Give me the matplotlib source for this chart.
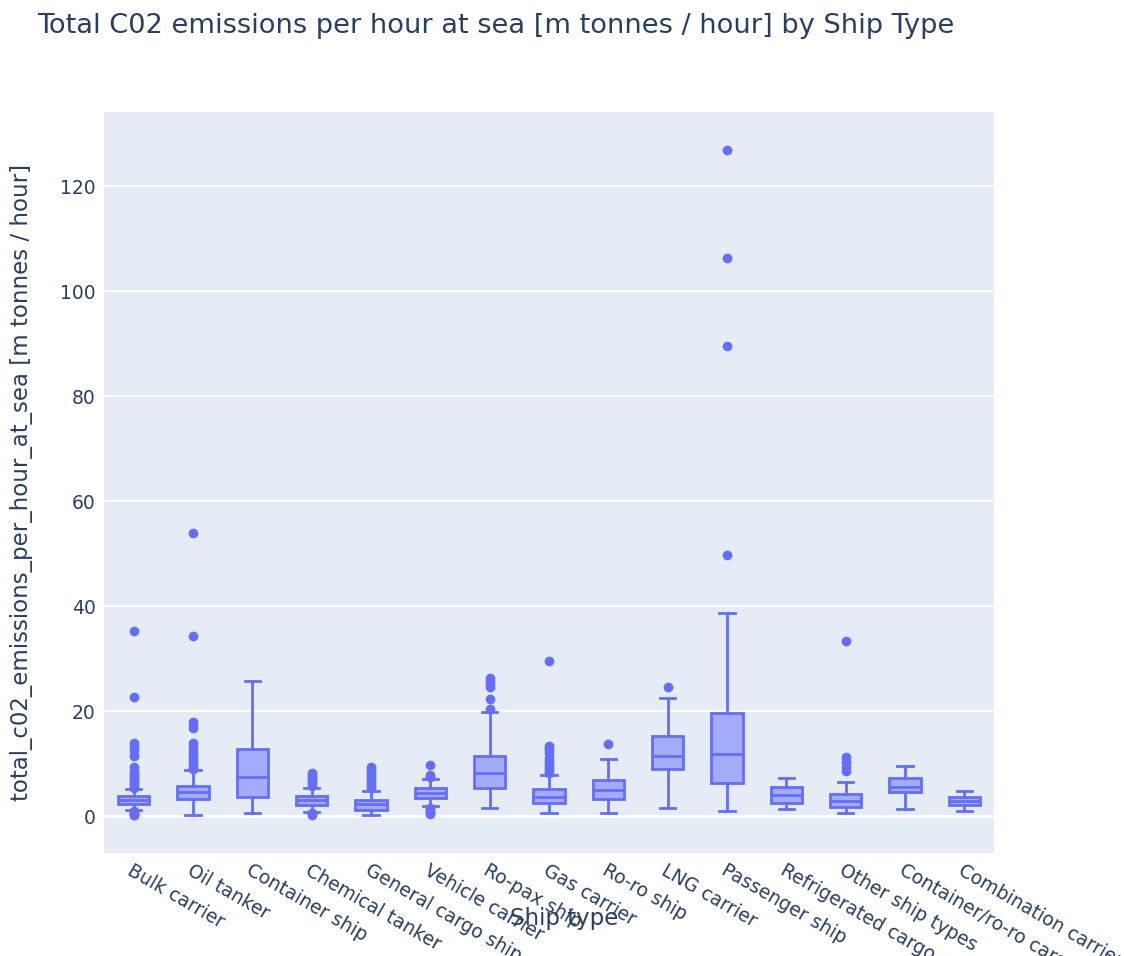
import matplotlib.pyplot as plt

plt.rcParams['font.family'] = ['DejaVu Sans']

ship_types = ['Bulk carrier', 'Oil tanker', 'Container ship', 'Chemical tanker',
              'General cargo ship', 'Vehicle carrier', 'Ro-pax ship', 'Gas carrier',
              'Ro-ro ship', 'LNG carrier', 'Passenger ship', 'Refrigerated cargo carrier',
              'Other ship types', 'Container/ro-ro cargo ship', 'Combination carrier']

# box statistics (m tonnes / hour)
q1 = [2.3, 3.2, 3.7, 2.1, 1.15, 3.4, 5.3, 2.4, 3.2, 9.0, 6.2, 2.55, 1.65, 4.5, 2.1]
median = [3.0, 4.5, 7.5, 3.0, 2.3, 4.3, 8.25, 3.6, 5.0, 11.5, 11.9, 4.0, 2.9, 5.6, 2.9]
q3 = [3.85, 5.7, 12.8, 3.8, 3.05, 5.3, 11.5, 5.1, 6.8, 15.2, 19.7, 5.6, 4.25, 7.2, 3.7]
whisker_low = [1.1, 0.2, 0.65, 0.8, 0.1, 2.0, 1.45, 0.6, 0.6, 1.45, 0.9, 1.3, 0.65, 1.3, 1.0]
whisker_high = [5.1, 8.8, 25.8, 5.4, 4.75, 7.1, 19.9, 7.8, 10.8, 22.5, 38.7, 7.2, 6.5, 9.5, 4.8]
outliers = [
    [35.3, 22.6, 14.0, 13.2, 12.4, 11.4, 9.4, 8.4, 8.0, 7.6, 7.2, 6.8, 6.5, 6.2, 5.9, 5.6, 5.4,
     0.9, 0.6, 0.4, 0.2, 0.1],
    [54.0, 34.3, 18.0, 17.4, 16.8, 14.0, 13.3, 12.6, 12.0, 11.4, 10.8, 10.3, 9.8, 9.3, 9.0],
    [],
    [8.2, 7.8, 7.4, 7.0, 6.6, 6.2, 5.8, 0.6, 0.4, 0.2],
    [9.3, 8.8, 8.3, 7.8, 7.3, 6.8, 6.3, 5.8, 5.3],
    [9.8, 7.9, 7.4, 1.6, 1.2, 0.8, 0.5, 0.3],
    [26.2, 25.7, 25.2, 24.5, 22.3, 20.4],
    [29.6, 13.4, 13.0, 12.5, 12.0, 11.0, 10.5, 10.0, 9.5, 9.0, 8.5, 8.1],
    [13.7],
    [24.5],
    [126.8, 106.2, 89.5, 49.8],
    [],
    [33.3, 11.2, 10.3, 9.4, 8.5],
    [],
    [],
]

blue = '#636efa'
text_color = '#2a3f5f'

stats = []
for i, name in enumerate(ship_types):
    stats.append({'label': name, 'q1': q1[i], 'med': median[i], 'q3': q3[i],
                  'whislo': whisker_low[i], 'whishi': whisker_high[i], 'fliers': outliers[i]})

fig = plt.figure(figsize=(11.24, 9.56), dpi=100)
ax = fig.add_axes([104 / 1124, 1 - 852.7 / 956, 890 / 1124, 740.7 / 956])
ax.set_facecolor('#E5ECF6')

ax.bxp(stats, positions=range(len(ship_types)), widths=0.53, patch_artist=True,
       showfliers=True, capwidths=0.26,
       boxprops=dict(facecolor=(0.388, 0.431, 0.98, 0.5), edgecolor=blue, linewidth=2),
       medianprops=dict(color=blue, linewidth=2),
       whiskerprops=dict(color=blue, linewidth=2),
       capprops=dict(color=blue, linewidth=2),
       flierprops=dict(marker='o', markerfacecolor=blue, markeredgecolor='none', markersize=7))

ax.set_xlim(-0.5, len(ship_types) - 0.5)
ax.set_ylim(-6.99, 134.1)
ax.set_yticks([0, 20, 40, 60, 80, 100, 120])
ax.grid(axis='y', color='white', linewidth=1.4)
ax.axhline(0, color='white', linewidth=2.2, zorder=0.9)
ax.set_axisbelow(True)
for s in ax.spines.values():
    s.set_visible(False)

ax.tick_params(axis='both', length=0, colors=text_color, labelsize=13.5)
ax.tick_params(axis='y', pad=6)
ax.set_xticks(range(len(ship_types)))
ax.set_xticklabels(ship_types, rotation=-30, ha='left', va='top', rotation_mode='anchor')
ax.tick_params(axis='x', pad=6)

ax.set_ylabel('total_c02_emissions_per_hour_at_sea [m tonnes / hour]', fontsize=16.5,
              color=text_color, va='center')
ax.yaxis.set_label_coords((22 - 104) / 890, 0.5)
ax.set_xlabel('Ship type', fontsize=16.5, color=text_color, va='center')
ax.xaxis.set_label_coords((564 - 104) / 890, (852.7 - 918) / 740.7)

fig.text(37 / 1124, 1 - 26 / 956, 'Total C02 emissions per hour at sea [m tonnes / hour] by Ship Type',
         fontsize=19.6, color=text_color, va='center', ha='left')

fig.savefig('out.png', dpi=100, facecolor='white')
